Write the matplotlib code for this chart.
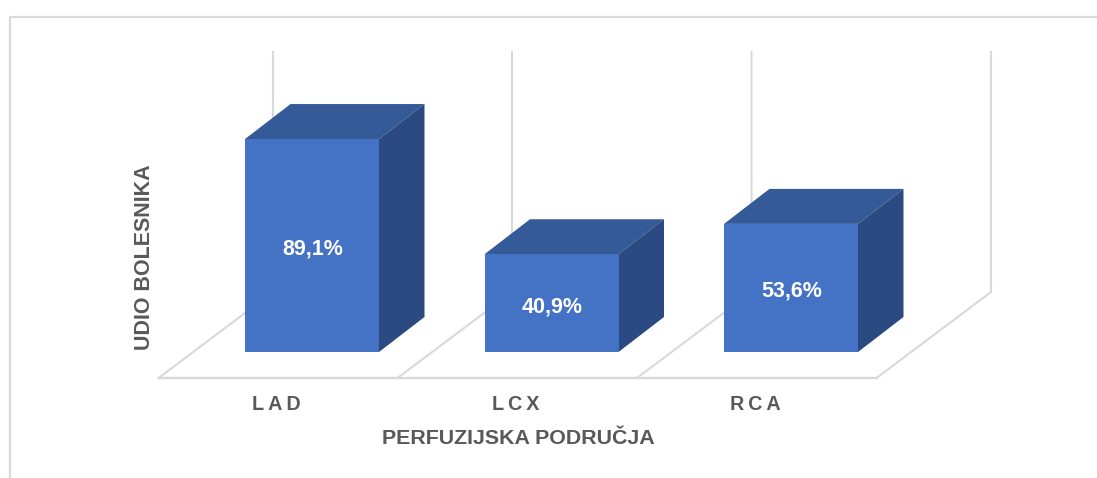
"""Pseudo-3D column chart of perfusion territories."""
from matplotlib import pyplot as plt
from matplotlib.lines import Line2D
from matplotlib.patches import Polygon, Rectangle

plt.rcParams['font.family'] = ['Liberation Sans', 'DejaVu Sans']

CATEGORIES = ['L\u2009A\u2009D', 'L\u2009C\u2009X', 'R\u2009C\u2009A']
VALUES = [89.1, 40.9, 53.6]
VALUE_LABELS = ['89,1%', '40,9%', '53,6%']
X_TITLE = 'PERFUZIJSKA PODRUČJA'
Y_TITLE = 'UDIO BOLESNIKA'

WIDTH, HEIGHT = 1097, 478
PX_X = 239.5  # pixels per category
PX_Y = 2.39  # pixels per percent
X0, Y0 = 312, 352  # pixel position of first bar centre, value zero

FRONT = '#4472C4'
TOP = '#355A98'
SIDE = '#2B4A82'
GRID = '#D9D9D9'
TEXT = '#595959'


def px_x(pixels):
    """Turn a horizontal pixel length into category units."""
    return pixels / PX_X


def px_y(pixels):
    """Turn a vertical pixel length into percent units."""
    return pixels / PX_Y


def draw_floor(ax):
    """Draw the back walls and the floor lines."""
    front = -px_y(26)
    back = px_y(60)
    wall_top = px_y(300)
    starts = [-px_x(153.5), px_x(85.5), px_x(325), px_x(564.5)]
    depth = px_x(114.5)
    for start in starts:
        ax.plot([start, start + depth, start + depth],
                [front, back, wall_top], color=GRID, lw=1.5, zorder=1,
                solid_joinstyle='miter')
    ax.plot([starts[0], starts[-1]], [front, front], color=GRID, lw=1.7,
            zorder=1)


def draw_bar(ax, center, value):
    """Draw one box, from its value, with front, top and side faces."""
    half = px_x(67)
    dx, dy = px_x(45.5), px_y(35)
    left, right = center - half, center + half
    ax.add_patch(Polygon([(left, value), (right, value),
                          (right + dx, value + dy), (left + dx, value + dy)],
                         facecolor=TOP, edgecolor='none', zorder=3))
    ax.add_patch(Polygon([(right, 0), (right + dx, dy),
                          (right + dx, value + dy), (right, value)],
                         facecolor=SIDE, edgecolor='none', zorder=3))
    ax.add_patch(Rectangle((left, 0), 2 * half, value, facecolor=FRONT,
                           edgecolor='none', zorder=4))


def main():
    """Build the figure and save it."""
    fig = plt.figure(figsize=(WIDTH / 100, HEIGHT / 100), dpi=100)
    ax = fig.add_axes([0, 0, 1, 1])
    ax.set_xlim(-X0 / PX_X, (WIDTH - X0) / PX_X)
    ax.set_ylim((Y0 - HEIGHT) / PX_Y, Y0 / PX_Y)
    ax.axis('off')

    # outer chart frame, only top and left are visible in the crop
    fig.add_artist(Line2D([10 / WIDTH, 10 / WIDTH, 1],
                          [0, 1 - 17 / HEIGHT, 1 - 17 / HEIGHT],
                          color=GRID, lw=1.6))

    draw_floor(ax)
    for i, value in enumerate(VALUES):
        draw_bar(ax, i, value)
        ax.text(i + px_x(0.5), value / 2 - px_y(3.5), VALUE_LABELS[i],
                color='white', fontsize=15.5, fontweight='bold', ha='center',
                va='center', zorder=5)
        ax.text(i - px_x(35.5), -px_y(53), CATEGORIES[i], color=TEXT,
                fontsize=14.2, fontweight='bold', ha='center', va='center')

    ax.text(1 - px_x(33.5), -px_y(86), X_TITLE, color=TEXT, fontsize=15.4,
            fontweight='bold', ha='center', va='center')
    ax.text(-px_x(167.5), px_y(94.5), Y_TITLE, color=TEXT, fontsize=15.5,
            fontweight='bold', ha='center', va='center', rotation=90)

    fig.savefig('out.png', dpi=100)


if __name__ == '__main__':
    main()
